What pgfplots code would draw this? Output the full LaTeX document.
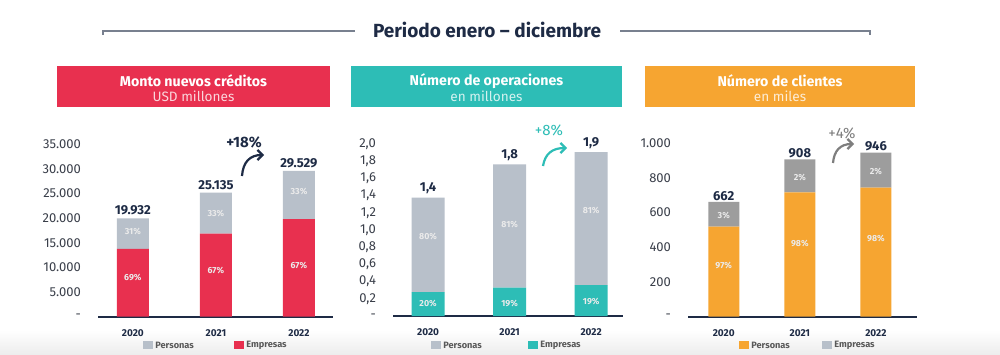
\documentclass[border=0pt]{standalone}
\usepackage{pgfplots}
\pgfplotsset{compat=1.18}
\usepackage{fontspec}
\setmainfont{Fira Sans}
\usetikzlibrary{arrows.meta}
\definecolor{cred}{HTML}{E8304F}
\definecolor{cteal}{HTML}{2DBDB6}
\definecolor{corange}{HTML}{F6A531}
\definecolor{clgray}{HTML}{B8C0CA}
\definecolor{cdgray}{HTML}{9D9D9D}
\definecolor{cnavy}{HTML}{1E2B45}
\definecolor{ctick}{HTML}{3A3F4A}
\pgfplotsset{
  panel/.style={
    scale only axis, anchor=south west, clip=false,
    ybar stacked, ymin=0, scaled y ticks=false,
    axis x line*=bottom, axis y line*=left,
    x axis line style={draw=cnavy, line width=0.8pt},
    y axis line style={draw=none},
    major tick length=0pt,
    xtick={0,1,2}, xticklabels={2020,2021,2022},
    xticklabel style={font=\bfseries\fontsize{5}{6}\selectfont, text=cnavy, yshift=-3pt},
    yticklabel style={font=\fontsize{6.5}{7}\selectfont, text=ctick, anchor=east, xshift=-5pt},
    every axis plot/.append style={draw=none},
  },
}
\tikzset{
  tot/.style={font=\bfseries\fontsize{6.5}{7}\selectfont, text=cnavy, anchor=south, inner sep=1.5pt},
  pct/.style={font=\bfseries\fontsize{4.4}{5}\selectfont, text=white!92!black},
}
\begin{document}
\begin{tikzpicture}
\path[use as bounding box, fill=white] (0,0) rectangle (500pt,177pt);
\shade[top color=white, bottom color=black!7] (0,0) rectangle (500pt,12pt);
\begin{scope}[shift={(0pt,177pt)}, x=0.5pt, y=-0.5pt]
  % title
  \draw[cnavy!60, line width=0.8pt] (103,35) -- (103,31) -- (355,31);
  \draw[cnavy!60, line width=0.8pt] (620,31) -- (870,31) -- (870,35);
  \node[font=\bfseries\fontsize{9.5}{11}\selectfont, text=cnavy] at (487,30) {Periodo enero – diciembre};
  % header boxes
  \fill[cred] (57,66) rectangle (330,107);
  \fill[cteal] (351,66) rectangle (622,107);
  \fill[corange] (645,66) rectangle (915,107);
  \node[font=\bfseries\fontsize{7.1}{8}\selectfont, text=white] at (193.5,81) {Monto nuevos créditos};
  \node[font=\fontsize{6.8}{8}\selectfont, text=white!80!cred] at (193.5,96) {USD millones};
  \node[font=\bfseries\fontsize{7.1}{8}\selectfont, text=white] at (486.5,81) {Número de operaciones};
  \node[font=\fontsize{6.8}{8}\selectfont, text=white!80!cteal] at (486.5,96) {en millones};
  \node[font=\bfseries\fontsize{7.1}{8}\selectfont, text=white] at (780,81) {Número de clientes};
  \node[font=\fontsize{6.8}{8}\selectfont, text=white!80!corange] at (780,96) {en miles};
  % growth annotations
  \node[font=\bfseries\fontsize{7.5}{8}\selectfont, text=cnavy] at (244,142) {+18\%};
  \draw[cnavy, line width=1.1pt, -{Straight Barb[length=2.5pt,width=5pt]}] (242,176) .. controls (243,162) and (250,155) .. (264,155);
  \node[font=\fontsize{7.5}{8}\selectfont, text=cteal] at (549,130) {+8\%};
  \draw[cteal, line width=1.1pt, -{Straight Barb[length=2.5pt,width=5pt]}] (543,166) .. controls (545,154) and (552,148) .. (567,148);
  \node[font=\fontsize{7.5}{8}\selectfont, text=cdgray!80!black] at (842,133) {+4\%};
  \draw[cdgray!80!black, line width=1.1pt, -{Straight Barb[length=2.5pt,width=5pt]}] (833,163) .. controls (834,151) and (840,144) .. (854,144);
  % legends
  \tikzset{lg/.style={font=\bfseries\fontsize{4.6}{5}\selectfont, text=black!65, anchor=west, inner sep=0pt}}
  \fill[clgray] (143,341) rectangle (153,349); \node[lg] at (155,345) {Personas};
  \fill[cred] (234,341) rectangle (244,349); \node[lg] at (246,345) {Empresas};
  \fill[clgray] (431,341) rectangle (441,349); \node[lg] at (443,345) {Personas};
  \fill[cteal] (528,341) rectangle (538,349); \node[lg] at (540,345) {Empresas};
  \fill[corange] (739,341) rectangle (749,349); \node[lg] at (751,345) {Personas};
  \fill[clgray] (822,341) rectangle (832,349); \node[lg] at (834,345) {Empresas};
\end{scope}

% Chart 1
\begin{axis}[panel, at={(49pt,18.65pt)}, width=117.5pt, height=86.35pt,
  xmin=-0.42, xmax=2.41, ymax=35000, bar width=16pt,
  ytick={0,5000,10000,15000,20000,25000,30000,35000},
  yticklabels={-\hspace{3pt},5.000,10.000,15.000,20.000,25.000,30.000,35.000}]
\addplot[fill=cred] coordinates {(0,13753) (1,16840) (2,19784)};
\addplot[fill=clgray] coordinates {(0,6179) (1,8295) (2,9745)};
\node[tot] at (axis cs:0,19932) {19.932};
\node[tot] at (axis cs:1,25135) {25.135};
\node[tot] at (axis cs:2,29529) {29.529};
\coordinate (a1) at (axis cs:0,8000);
\coordinate (a2) at (axis cs:1,9460);
\coordinate (a3) at (axis cs:2,10340);
\coordinate (a4) at (axis cs:0,17200);
\coordinate (a5) at (axis cs:1,20950);
\coordinate (a6) at (axis cs:2,25330);
\end{axis}
\node[pct] at (a1) {69\%};
\node[pct] at (a2) {67\%};
\node[pct] at (a3) {67\%};
\node[pct] at (a4) {31\%};
\node[pct] at (a5) {33\%};
\node[pct] at (a6) {33\%};

% Chart 2
\begin{axis}[panel, at={(196.5pt,19pt)}, width=115pt, height=86pt,
  xmin=-0.43, xmax=2.39, ymax=2.0, bar width=16.5pt,
  ytick={0,0.2,0.4,0.6,0.8,1.0,1.2,1.4,1.6,1.8,2.0},
  yticklabels={-\hspace{1pt},{0,2},{0,4},{0,6},{0,8},{1,0},{1,2},{1,4},{1,6},{1,8},{2,0}}]
\addplot[fill=cteal] coordinates {(0,0.279) (1,0.329) (2,0.360)};
\addplot[fill=clgray] coordinates {(0,1.097) (1,1.435) (2,1.547)};
\node[tot] at (axis cs:0,1.376) {1,4};
\node[tot] at (axis cs:1,1.764) {1,8};
\node[tot] at (axis cs:2,1.907) {1,9};
\coordinate (b1) at (axis cs:0,0.14);
\coordinate (b2) at (axis cs:1,0.14);
\coordinate (b3) at (axis cs:2,0.166);
\coordinate (b4) at (axis cs:0,0.922);
\coordinate (b5) at (axis cs:1,1.066);
\coordinate (b6) at (axis cs:2,1.224);
\end{axis}
\node[pct] at (b1) {20\%};
\node[pct] at (b2) {19\%};
\node[pct] at (b3) {19\%};
\node[pct] at (b4) {80\%};
\node[pct] at (b5) {81\%};
\node[pct] at (b6) {81\%};

% Chart 3
\begin{axis}[panel, at={(344pt,18.65pt)}, width=114.5pt, height=86.7pt,
  xmin=-0.47, xmax=2.54, ymax=1000, bar width=15.5pt,
  ytick={0,200,400,600,800,1000},
  yticklabels={-\hspace{3pt},200,400,600,800,1.000}]
\addplot[fill=corange] coordinates {(0,519) (1,717) (2,744)};
\addplot[fill=cdgray] coordinates {(0,143) (1,191) (2,202)};
\node[tot, inner sep=0.5pt] at (axis cs:0,662) {662};
\node[tot, inner sep=0.5pt] at (axis cs:1,908) {908};
\node[tot, inner sep=0.5pt] at (axis cs:2,946) {946};
\coordinate (c1) at (axis cs:0,294);
\coordinate (c2) at (axis cs:1,423);
\coordinate (c3) at (axis cs:2,452);
\coordinate (c4) at (axis cs:0,582);
\coordinate (c5) at (axis cs:1,804);
\coordinate (c6) at (axis cs:2,836);
\end{axis}
\node[pct] at (c1) {97\%};
\node[pct] at (c2) {98\%};
\node[pct] at (c3) {98\%};
\node[pct] at (c4) {3\%};
\node[pct] at (c5) {2\%};
\node[pct] at (c6) {2\%};
\end{tikzpicture}
\end{document}
